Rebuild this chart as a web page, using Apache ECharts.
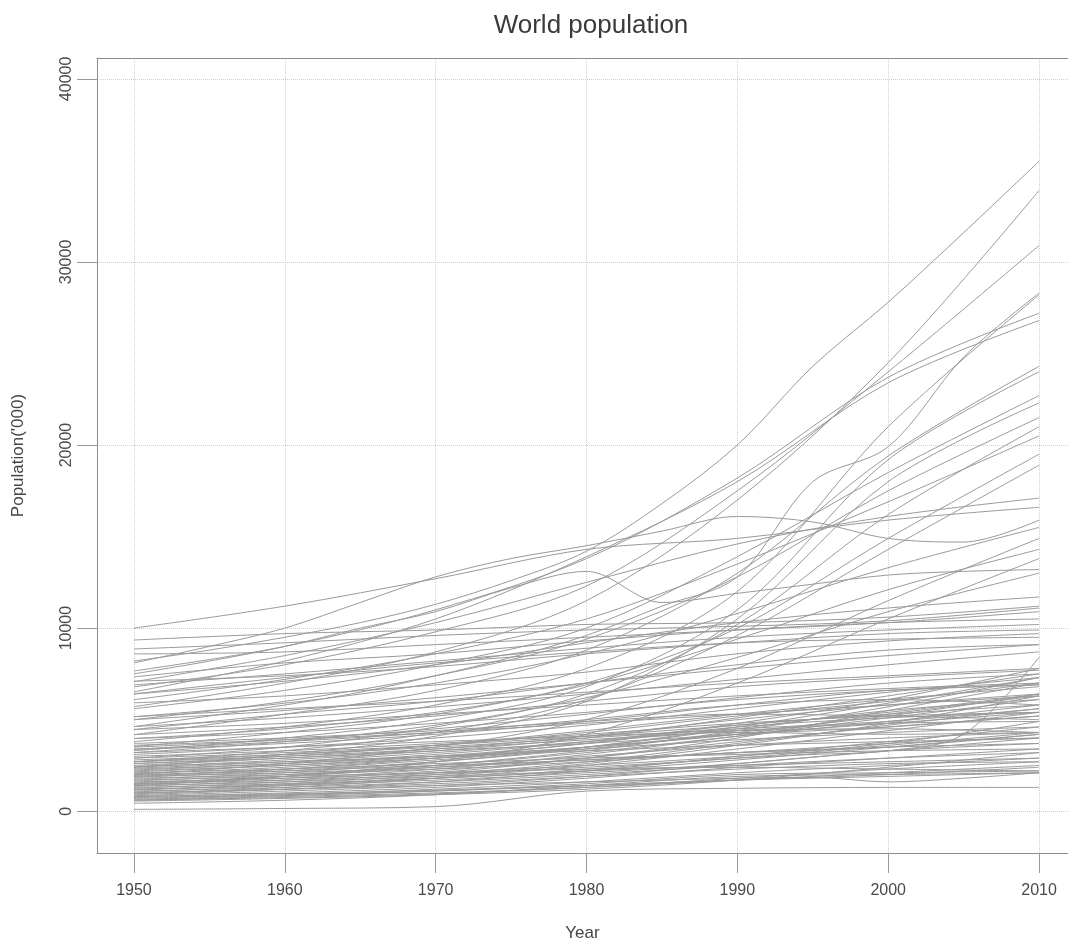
<!DOCTYPE html>
<html>
<head>
<meta charset="utf-8">
<script src="https://cdn.jsdelivr.net/npm/echarts@6/dist/echarts.min.js"></script>
<style>
  html, body { margin: 0; padding: 0; background: #ffffff; }
  #chart { width: 1068px; height: 947px; }
</style>
</head>
<body>
<div id="chart"></div>
<script>
// Sample years
const decades = [1950, 1960, 1970, 1980, 1990, 2000, 2010];
const fiveYears = [1950, 1955, 1960, 1965, 1970, 1975, 1980, 1985, 1990, 1995, 2000, 2005, 2010];

// Axis ticks
const xTicks = [1950, 1960, 1970, 1980, 1990, 2000, 2010];
const yTicks = [0, 10000, 20000, 30000, 40000];

// Population ('000) per country, one row per country, sampled every ten years
const decadeRows = [
  [5710, 7000, 8700, 11500, 17000, 24500, 33900],
  [6790, 8000, 9800, 12300, 17500, 24000, 30900],
  [7660, 9000, 11000, 13800, 18200, 23700, 27200],
  [6520, 8200, 10500, 13900, 18000, 23400, 26800],
  [3800, 4600, 5800, 7800, 12000, 21000, 28200],
  [4180, 5300, 6600, 8800, 13000, 19400, 24300],
  [3300, 4000, 5000, 6800, 11000, 19200, 24000],
  [5600, 6600, 8000, 10000, 13900, 18500, 22700],
  [2400, 3100, 4100, 6000, 10500, 18000, 22300],
  [5000, 6000, 7400, 9400, 12800, 17500, 21500],
  [2900, 3500, 4600, 6400, 10200, 16200, 21000],
  [6090, 7200, 8600, 10500, 13500, 16900, 20500],
  [3530, 4300, 5300, 7000, 10000, 14900, 19500],
  [2700, 3300, 4300, 6100, 9600, 14300, 18900],
  [7070, 8500, 10300, 12500, 14600, 16100, 17100],
  [10000, 11200, 12700, 14300, 14900, 15900, 16600],
  [5160, 5900, 7000, 8600, 10800, 13300, 15500],
  [2000, 2600, 3500, 5000, 7800, 11500, 14900],
  [3970, 4500, 5400, 6900, 9400, 12100, 14300],
  [1400, 1900, 2700, 4200, 7000, 10500, 13800],
  [3200, 3800, 4700, 6200, 8400, 10900, 13000],
  [6400, 7100, 8000, 9200, 10300, 11100, 11700],
  [9350, 9700, 9900, 10200, 10300, 10600, 11200],
  [8860, 9200, 9600, 9900, 10100, 10400, 11100],
  [8590, 8700, 9100, 9500, 9900, 10300, 10900],
  [7340, 8100, 8600, 9300, 9900, 10300, 10500],
  [6900, 7500, 8200, 8900, 9500, 9900, 10200],
  [7100, 7400, 7900, 8600, 9200, 9700, 9900],
  [5920, 6300, 6900, 7600, 8600, 9300, 9700],
  [6410, 7300, 8100, 8700, 9200, 9400, 9500],
  [4460, 5300, 6000, 7000, 8000, 8800, 9100],
  [100, 150, 250, 1100, 1250, 1300, 1300],
  [430, 600, 900, 1400, 1900, 2000, 2100],
  [650, 850, 1100, 1500, 2000, 2100, 2200],
  [700, 900, 1200, 1600, 2100, 2500, 2900],
  [800, 1000, 1300, 1800, 2400, 2900, 3400],
  [850, 1100, 1400, 1900, 2600, 3300, 4000],
  [900, 1200, 1600, 2200, 3000, 3800, 4600],
  [950, 1300, 1800, 2500, 3400, 4400, 5400],
  [1000, 1200, 1500, 1900, 2300, 2600, 2700],
  [1050, 1400, 1900, 2600, 3600, 4800, 6300],
  [1100, 1300, 1600, 2000, 2500, 2900, 3200],
  [1150, 1500, 2000, 2700, 3700, 4700, 5600],
  [1200, 1400, 1700, 2100, 2600, 3300, 3700],
  [1250, 1600, 2100, 2900, 4000, 5500, 7000],
  [1300, 1500, 1800, 2200, 2800, 3500, 4200],
  [1350, 1700, 2200, 2900, 3800, 4600, 5200],
  [1400, 1600, 1900, 2200, 2500, 2700, 2900],
  [1450, 1800, 2300, 3100, 4100, 5100, 6100],
  [1500, 1700, 2000, 2400, 2900, 3600, 4300],
  [1550, 1900, 2400, 3000, 3600, 4000, 4300],
  [1600, 1800, 2100, 2500, 3000, 3700, 4900],
  [1650, 2000, 2500, 3200, 4100, 4900, 5800],
  [1700, 1900, 2100, 2300, 2400, 2300, 2200],
  [1750, 2100, 2700, 3500, 4600, 5900, 7300],
  [1800, 2000, 2300, 2700, 3200, 3500, 3700],
  [1850, 2200, 2700, 3400, 4300, 5200, 6400],
  [1900, 2100, 2400, 2800, 3200, 3700, 4000],
  [1950, 2300, 2800, 3500, 4500, 5500, 6100],
  [2000, 2200, 2500, 2800, 3200, 3500, 4200],
  [2050, 2400, 2900, 3500, 4200, 4800, 5400],
  [2100, 2300, 2600, 2900, 3100, 3300, 3400],
  [2150, 2500, 3000, 3700, 4800, 6100, 7800],
  [2200, 2500, 2900, 3400, 3900, 4300, 4600],
  [2250, 2600, 3100, 3800, 4700, 5300, 5800],
  [2300, 2600, 3000, 3500, 4200, 5300, 6300],
  [2350, 2700, 3200, 3800, 4400, 4800, 4900],
  [2400, 2800, 3300, 4000, 5100, 6300, 7500],
  [2450, 2700, 3000, 3300, 3600, 3800, 4000],
  [2500, 2900, 3400, 4100, 5000, 5800, 6400],
  [2600, 2900, 3300, 3700, 4200, 4600, 5200],
  [2700, 3100, 3600, 4300, 5200, 6000, 7000],
  [2800, 3100, 3500, 4000, 4500, 4900, 5600],
  [2900, 3200, 3600, 4100, 4700, 5400, 6400],
  [3000, 3300, 3700, 4200, 4800, 5200, 5400],
  [3100, 3500, 4000, 4700, 5600, 6500, 7300],
  [3200, 3500, 3800, 4100, 4400, 4500, 4300],
  [3370, 3700, 4200, 4900, 5800, 6600, 6900],
  [3400, 3800, 4300, 5000, 5800, 6100, 5800],
  [3500, 3900, 4500, 5300, 6200, 7000, 7500],
  [3700, 4000, 4400, 4900, 5300, 5200, 5000],
  [3970, 4300, 4800, 5400, 6100, 6600, 6900],
  [4180, 4600, 5200, 6000, 6800, 7300, 7700],
  [4460, 4800, 5300, 5800, 6300, 6700, 7000],
  [4620, 5100, 5700, 6400, 7200, 8000, 8700],
  [5000, 5500, 6200, 7000, 7800, 8500, 9100],
  [5160, 5600, 6000, 6500, 7000, 7400, 7800],
  [600, 750, 950, 1300, 1800, 2300, 2700],
  [550, 700, 900, 1200, 1700, 2400, 3200],
  [750, 900, 1100, 1400, 1700, 1900, 2100],
  [1500, 1900, 2500, 3300, 4400, 5700, 7300],
  [1900, 2300, 2900, 3700, 4600, 5100, 5400],
  [2700, 3000, 3400, 3900, 4300, 4200, 4300],
  [3600, 3900, 4300, 4800, 5300, 5800, 6300],
  [600, 800, 1000, 1300, 1700, 2100, 2500],
  [800, 950, 1150, 1400, 1700, 2000, 2400],
  [2600, 3000, 3600, 4400, 5300, 6100, 6800]
];

// Countries with sharper turns, sampled every five years
const fineRows = [
  [8200, 8800, 9500, 10300, 11300, 12600, 14200, 16800, 20000, 24300, 27800, 31600, 35500],
  [4620, 5200, 5800, 6500, 7400, 8400, 9600, 11200, 12800, 18000, 19900, 24800, 28300],
  [8100, 9000, 10000, 11400, 12800, 13800, 14500, 15300, 16100, 15800, 14900, 14700, 15900],
  [7500, 8200, 9000, 10000, 10900, 12200, 13100, 11400, 11900, 12400, 12900, 13100, 13200],
  [1200, 1300, 1450, 1600, 1800, 2000, 2300, 2600, 2900, 3100, 3300, 4200, 8400],
  [1000, 1100, 1200, 1300, 1400, 1500, 1600, 1700, 1800, 1850, 1600, 1800, 2100]
];

const FONT = 'Liberation Sans, Arial, Helvetica, sans-serif';
const LINE_COLOR = '#9a9a9a';

function toSeries(years, row) {
  return {
    type: 'line',
    data: years.map((y, i) => [y, row[i]]),
    showSymbol: false,
    smooth: 0.33,
    lineStyle: { color: LINE_COLOR, width: 1 },
    emphasis: { disabled: true },
    silent: true,
    xAxisIndex: 0,
    yAxisIndex: 0
  };
}

const series = []
  .concat(decadeRows.map(r => toSeries(decades, r)))
  .concat(fineRows.map(r => toSeries(fiveYears, r)));

const chart = echarts.init(document.getElementById('chart'), null, { renderer: 'canvas' });

chart.setOption({
  animation: false,
  backgroundColor: '#ffffff',
  textStyle: { fontFamily: FONT },
  title: {
    text: 'World population',
    left: 586,
    top: 8,
    textAlign: 'center',
    textStyle: { fontFamily: FONT, fontSize: 26, fontWeight: 'normal', color: '#3a3a3a' }
  },
  grid: { left: 97, right: 0, top: 58, bottom: 90, containLabel: false },
  xAxis: [
    {
      type: 'value',
      position: 'bottom',
      min: 1947.55,
      max: 2011.92,
      name: 'Year',
      nameLocation: 'middle',
      nameGap: 72,
      nameTextStyle: { fontFamily: FONT, fontSize: 17, color: '#444444' },
      axisLine: { show: true, onZero: false, lineStyle: { color: '#8c8c8c', width: 1 } },
      axisTick: { show: true, inside: false, length: 20, customValues: xTicks, lineStyle: { color: '#9a9a9a' } },
      axisLabel: { customValues: xTicks, margin: 30, fontFamily: FONT, fontSize: 16, color: '#4a4a4a', formatter: v => String(v) },
      splitLine: { show: true, lineStyle: { type: 'dotted', color: '#cfcfcf', width: 1 } }
    },
    {
      type: 'value',
      position: 'top',
      min: 1947.55,
      max: 2011.92,
      axisLine: { show: true, onZero: false, lineStyle: { color: '#8c8c8c', width: 1 } },
      axisTick: { show: false },
      axisLabel: { show: false },
      splitLine: { show: false }
    }
  ],
  yAxis: {
    type: 'value',
    min: -2283,
    max: 41141,
    name: "Population('000)",
    nameLocation: 'middle',
    nameRotate: 90,
    nameGap: 70,
    nameTextStyle: { fontFamily: FONT, fontSize: 17, color: '#444444' },
    axisLine: { show: true, onZero: false, lineStyle: { color: '#8c8c8c', width: 1 } },
    axisTick: { show: true, inside: false, length: 20, customValues: yTicks, lineStyle: { color: '#9a9a9a' } },
    axisLabel: { customValues: yTicks, rotate: 90, margin: 22, fontFamily: FONT, fontSize: 16, color: '#4a4a4a', formatter: v => String(v) },
    splitLine: { show: true, lineStyle: { type: 'dotted', color: '#cfcfcf', width: 1 } }
  },
  series: series
});
</script>
</body>
</html>
